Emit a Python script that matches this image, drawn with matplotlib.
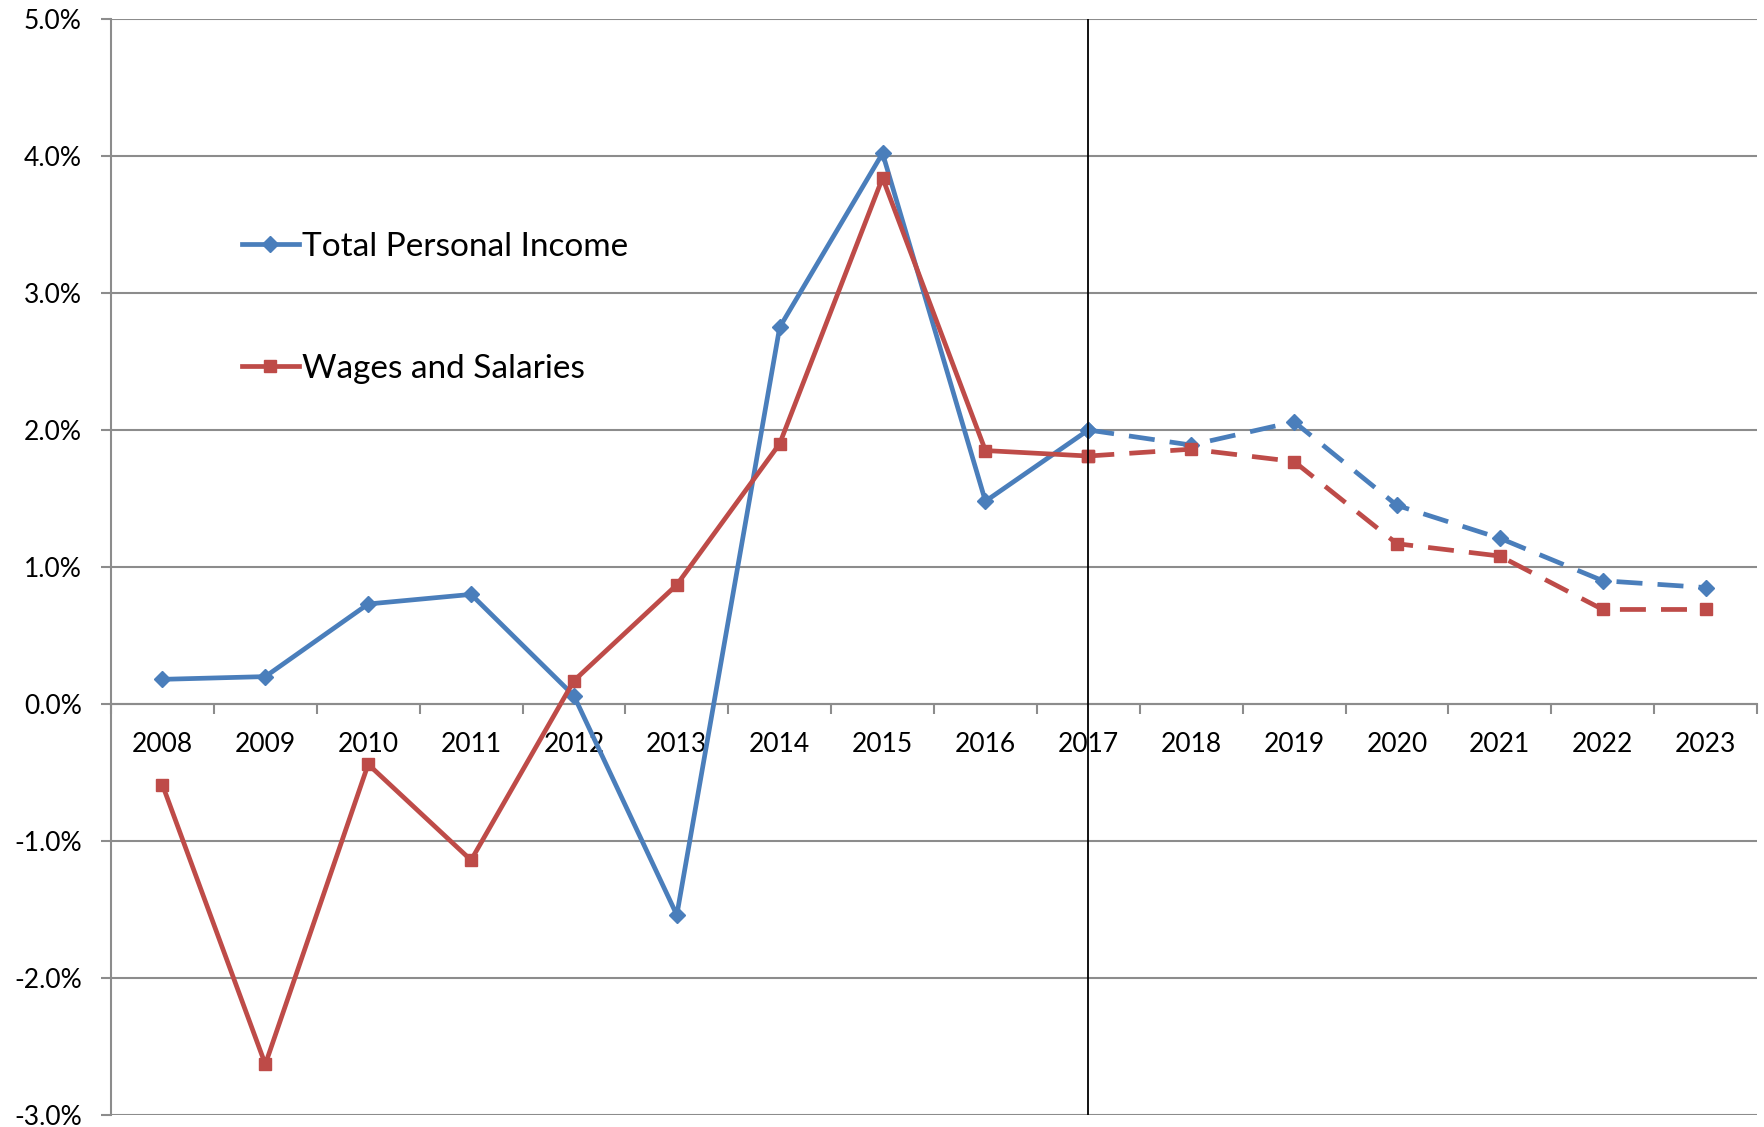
import matplotlib.pyplot as plt
from matplotlib.ticker import FuncFormatter, FixedLocator

years = ['2008', '2009', '2010', '2011', '2012', '2013', '2014', '2015',
         '2016', '2017', '2018', '2019', '2020', '2021', '2022', '2023']
total_income = [0.18, 0.20, 0.73, 0.80, 0.06, -1.54, 2.75, 4.02,
                1.48, 2.00, 1.89, 2.06, 1.45, 1.21, 0.90, 0.85]
wages = [-0.59, -2.63, -0.44, -1.14, 0.17, 0.87, 1.90, 3.84,
         1.85, 1.81, 1.86, 1.77, 1.17, 1.08, 0.69, 0.69]
split_year = '2017'

blue = '#4A7EBB'
red = '#BE4B48'
grid_c = '#8C8C8C'

plt.rcParams['font.family'] = ['Lato', 'DejaVu Sans']

fig = plt.figure(figsize=(17.64, 11.27), dpi=100)
ax = fig.add_axes([111 / 1764, 12 / 1127, 1646 / 1764, 1096 / 1127])

x = list(range(len(years)))
k = years.index(split_year)

lw = 3.4
solid_tpi, = ax.plot(x[:k + 1], total_income[:k + 1], color=blue, lw=lw,
                     marker='D', ms=8, zorder=4)
ax.plot(x[k:], total_income[k:], color=blue, lw=lw, ls=(0, (5.5, 3.2)),
        marker='D', ms=8, zorder=4, dash_capstyle='butt')
solid_w, = ax.plot(x[:k + 1], wages[:k + 1], color=red, lw=lw,
                   marker='s', ms=8.5, zorder=5)
ax.plot(x[k:], wages[k:], color=red, lw=lw, ls=(0, (5.5, 3.2)),
        marker='s', ms=8.5, zorder=5, dash_capstyle='butt')

ax.axvline(k, color='black', lw=1.3, zorder=6)

ax.set_xlim(-0.5, len(years) - 0.5)
ax.set_ylim(-3, 5)
ax.set_yticks(range(-3, 6))
ax.yaxis.set_major_formatter(FuncFormatter(lambda v, p: '{:.1f}%'.format(v)))
ax.yaxis.grid(True, color=grid_c, lw=1.5)
ax.set_axisbelow(True)

ax.spines['bottom'].set_position(('data', 0))
for s in ['top', 'right']:
    ax.spines[s].set_visible(False)
for s in ['left', 'bottom']:
    ax.spines[s].set_color(grid_c)
    ax.spines[s].set_linewidth(1.5)

ax.set_xticks(x)
ax.set_xticklabels(years)
ax.xaxis.set_minor_locator(FixedLocator([i - 0.5 for i in range(len(years) + 1)]))
ax.tick_params(axis='x', which='major', length=0, pad=20, labelsize=19)
ax.tick_params(axis='x', which='minor', length=7, width=1.5, color=grid_c,
               direction='out')
ax.tick_params(axis='y', length=7, width=1.5, color=grid_c, pad=14,
               labelsize=19)

fig.legend([solid_tpi, solid_w], ['Total Personal Income', 'Wages and Salaries'],
           loc='upper left', bbox_to_anchor=(242 / 1764, 1 - 232 / 1127),
           frameon=False, fontsize=24, handlelength=1.7, handletextpad=0.1,
           labelspacing=2.75, borderpad=0, borderaxespad=0)

fig.savefig('out.png', dpi=100)
